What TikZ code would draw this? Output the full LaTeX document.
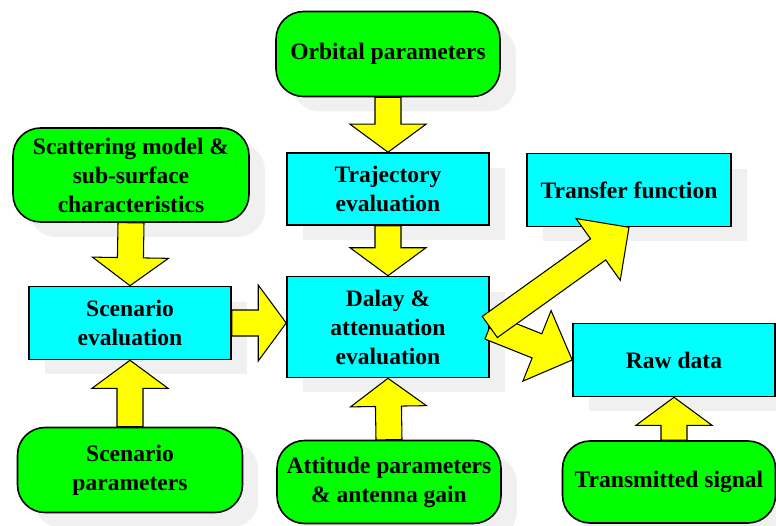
\documentclass[tikz,border=0pt]{standalone}
\usepackage{fontspec}
\setmainfont{Liberation Serif}
\usetikzlibrary{calc,shadows}
\definecolor{boxcyan}{RGB}{0,255,255}
\definecolor{boxgreen}{RGB}{0,255,0}
\definecolor{boxyellow}{RGB}{255,255,0}
\newcommand{\bigarrow}[3][0.56cm]{%
	\coordinate (ah) at ($(#3)!#1!(#2)$);
	\filldraw[arrowbody] ($(#2)!0.26cm!90:(#3)$) -- ($(ah)!0.26cm!90:(#3)$) -- ($(ah)!0.76cm!90:(#3)$) -- (#3)
		-- ($(ah)!0.76cm!-90:(#3)$) -- ($(ah)!0.26cm!-90:(#3)$) -- ($(#2)!0.26cm!-90:(#3)$) -- cycle;}
\begin{document}
\begin{tikzpicture}[x=0.02cm,y=-0.02cm,line join=miter,
		box/.style={draw,line width=0.9pt,align=center,inner sep=0pt,
			font=\bfseries\fontsize{13.4}{16.5}\selectfont,
			drop shadow={shadow xshift=0.32cm,shadow yshift=-0.3cm,fill=black!6,opacity=1}},
		inbox/.style={box,fill=boxgreen,rounded corners=0.55cm},
		evbox/.style={box,fill=boxcyan},
		arrowbody/.style={fill=boxyellow,draw=black,line width=0.6pt}]
	\useasboundingbox (0,0) rectangle (776,526);
	\node[inbox,minimum width=4.48cm,minimum height=1.7cm] (orb) at (388,54) {Orbital parameters};
	\node[inbox,minimum width=4.72cm,minimum height=1.88cm] (scat) at (131,175) {Scattering model \&\\sub-surface\\characteristics};
	\node[inbox,minimum width=4.5cm,minimum height=1.7cm] (scpar) at (130,470) {Scenario\\parameters};
	\node[inbox,minimum width=4.48cm,minimum height=1.66cm] (att) at (389,482) {Attitude parameters\\\& antenna gain};
	\node[inbox,minimum width=4.26cm,minimum height=1.64cm] (tsig) at (669,482) {Transmitted signal};
	\node[evbox,minimum width=4.04cm,minimum height=1.44cm] (traj) at (388,189) {Trajectory\\evaluation};
	\node[evbox,minimum width=4.08cm,minimum height=1.46cm] (trans) at (629,190) {Transfer function};
	\node[evbox,minimum width=4.04cm,minimum height=1.46cm] (scen) at (130,323) {Scenario\\evaluation};
	\node[evbox,minimum width=4.04cm,minimum height=2.02cm] (delay) at (388,327) {Dalay \&\\attenuation\\evaluation};
	\node[evbox,minimum width=4.04cm,minimum height=1.46cm] (raw) at (674,360) {Raw data};
	\coordinate (scn) at (delay.west |- scen.east);
	\coordinate (sig) at (raw.south |- tsig.north);
	\bigarrow{orb.south}{traj.north}
	\bigarrow{traj.south}{delay.north}
	\bigarrow{scat.south}{scen.north}
	\bigarrow{scpar.north}{scen.south}
	\bigarrow{att.north}{delay.south}
	\bigarrow{sig}{raw.south}
	\bigarrow{scen.east}{scn}
	\bigarrow[0.76cm]{delay.east}{raw.west}
	\bigarrow[0.76cm]{delay.east}{trans.south}
\end{tikzpicture}
\end{document}
